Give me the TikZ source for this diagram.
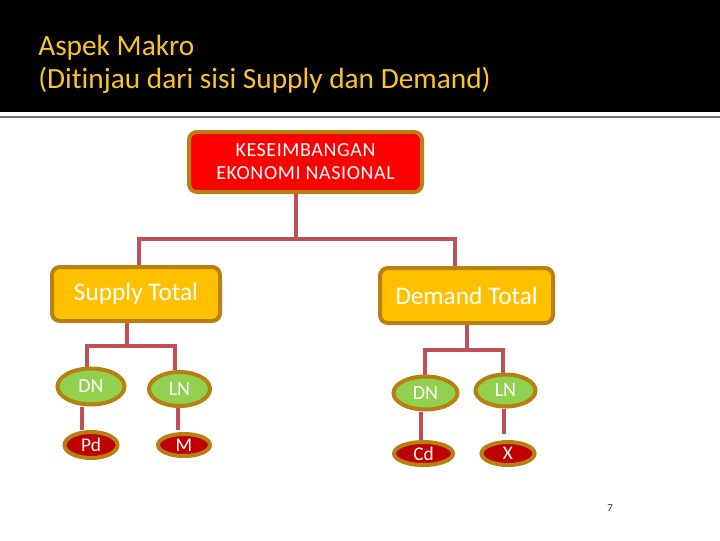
\documentclass[tikz,border=0pt]{standalone}
\usepackage{fontspec}
\setmainfont[Ligatures=NoCommon]{Carlito}
\usetikzlibrary{shapes.geometric,backgrounds}
\definecolor{titley}{RGB}{250,196,40}
\definecolor{bord}{RGB}{184,128,16}
\definecolor{connc}{RGB}{192,80,85}
\definecolor{topred}{RGB}{255,0,0}
\definecolor{boxy}{RGB}{255,192,0}
\definecolor{leafg}{RGB}{146,208,80}
\definecolor{leafr}{RGB}{192,0,0}
\tikzset{
  titletext/.style={anchor=base west, text=titley, inner sep=0pt, font=\fontsize{22}{26}\selectfont},
  topbox/.style={draw=bord, line width=3pt, fill=topred, rounded corners=6pt, text=white, align=center, inner sep=0pt, minimum width=174.75pt, minimum height=45pt, font=\fontsize{15}{17.25}\selectfont\addfontfeature{LetterSpace=3}},
  midbox/.style={draw=bord, line width=3pt, fill=boxy, rounded corners=6pt, text=white, inner sep=0pt, font=\fontsize{19}{21}\selectfont},
  greenell/.style={ellipse, draw=bord, line width=3pt, fill=leafg, text=white, inner sep=0pt, font=\fontsize{15}{16}\selectfont},
  redell/.style={ellipse, draw=bord, line width=3pt, fill=leafr, text=white, inner sep=0pt, font=\fontsize{14.5}{16}\selectfont},
  conn/.style={draw=connc, line width=3pt}
}
\begin{document}
\begin{tikzpicture}[x=0.75pt,y=-0.75pt]
\useasboundingbox (0,0) rectangle (720,540);
% title
\node[titletext] (t1) at (38,55) {Aspek Makro};
\node[titletext] (t2) at (38,88) {(Ditinjau dari sisi Supply dan Demand)};
% boxes
\node[topbox] (top) at (305.5,162) {KESEIMBANGAN\\EKONOMI NASIONAL};
\node[midbox, minimum width=126pt, minimum height=40.5pt] (sup) at (136,294) {Supply Total};
\node[midbox, minimum width=129.75pt, minimum height=41.25pt] (dem) at (466.5,295.5) {Demand Total};
% leaves
\node[greenell, minimum width=50.25pt, minimum height=27pt] (dnl) at (91,386.5) {DN};
\node[greenell, minimum width=45.75pt, minimum height=25.5pt] (lnl) at (179.5,389) {LN};
\node[redell, minimum width=39.75pt, minimum height=19.5pt] (pd) at (91,445) {Pd};
\node[redell, minimum width=39pt, minimum height=16.5pt] (m) at (184,445) {M};
\node[greenell, minimum width=48pt, minimum height=24.75pt] (dnr) at (425.5,393) {DN};
\node[greenell, minimum width=45pt, minimum height=24pt] (lnr) at (505.5,390.5) {LN};
\node[redell, minimum width=44.25pt, minimum height=17.25pt] (cd) at (423.5,453.5) {Cd};
\node[redell, minimum width=39.75pt, minimum height=17.25pt] (x) at (508,453.5) {X};
\node[text=black!80, font=\fontsize{8}{9}\selectfont, inner sep=0pt] (pg) at (610,508) {7};
% junctions
\coordinate (jt) at (296,239);
\coordinate (cs) at (139,0);
\coordinate (cdm) at (455,0);
\coordinate (js) at (127,346);
\coordinate (xs1) at (87,0);
\coordinate (xs2) at (175,0);
\coordinate (xp) at (82,0);
\coordinate (me) at (178,430);
\coordinate (jd) at (467,350);
\coordinate (xd1) at (425,0);
\coordinate (xd2) at (503,0);
\coordinate (xc) at (421,0);
\coordinate (xe) at (504,434);
\begin{scope}[on background layer]
\fill[white] (0,0) rectangle (720,540);
\fill[black] (0,0) rectangle (720,112);
\draw[black!55, line width=1.5pt] (0,116.5) -- (720,116.5);
\draw[conn] (top.south -| jt) -- (jt) -| (sup.north -| cs);
\draw[conn] (jt) -| (dem.north -| cdm);
\draw[conn] (sup.south -| js) -- (js) -| (dnl.north -| xs1);
\draw[conn] (js) -| (lnl.north -| xs2);
\draw[conn] (dnl.south -| xp) -- (pd.north -| xp);
\draw[conn] (lnl.south -| me) -- (me);
\draw[conn] (dem.south -| jd) -- (jd) -| (dnr.north -| xd1);
\draw[conn] (jd) -| (lnr.north -| xd2);
\draw[conn] (dnr.south -| xc) -- (cd.north -| xc);
\draw[conn] (lnr.south -| xe) -- (xe);
\end{scope}
\end{tikzpicture}
\end{document}
